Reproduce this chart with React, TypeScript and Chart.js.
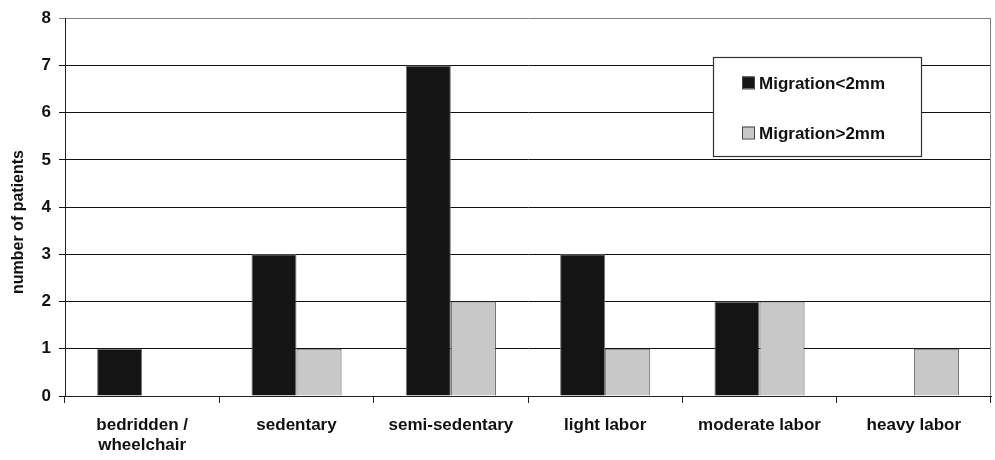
import React, { useEffect, useRef } from "react";
import { Chart, registerables } from "chart.js";

Chart.register(...registerables);

const categories: (string | string[])[] = [
  ["bedridden /", "wheelchair"],
  "sedentary",
  "semi-sedentary",
  "light labor",
  "moderate labor",
  "heavy labor",
];
const seriesLabels = ["Migration<2mm", "Migration>2mm"];
const migrationBelow2mm = [1, 3, 7, 3, 2, 0];
const migrationAbove2mm = [0, 1, 2, 1, 2, 1];
const yTicks = [0, 1, 2, 3, 4, 5, 6, 7, 8];
const yTitle = "number of patients";

const FONT = "'Liberation Sans', Arial, Helvetica, sans-serif";
const BLACK = "#141414";
const GRAY = "#c8c8c8";

const frameAndLegend = {
  id: "frameAndLegend",
  afterDraw(chart: any) {
    const ctx = chart.ctx;
    const a = chart.chartArea;
    ctx.save();
    // right border of plot area
    ctx.strokeStyle = "#808080";
    ctx.lineWidth = 1;
    ctx.beginPath();
    ctx.moveTo(Math.round(a.right) - 0.5, a.top);
    ctx.lineTo(Math.round(a.right) - 0.5, a.bottom);
    ctx.stroke();

    // y axis title
    ctx.save();
    ctx.translate(19, 222);
    ctx.rotate(-Math.PI / 2);
    ctx.font = `bold 16px ${FONT}`;
    ctx.fillStyle = "#111";
    ctx.textAlign = "center";
    ctx.textBaseline = "middle";
    ctx.fillText(yTitle, 0, 0);
    ctx.restore();

    // legend box
    const bx = 713.5, by = 57.5, bw = 208, bh = 99;
    ctx.fillStyle = "#ffffff";
    ctx.fillRect(bx, by, bw, bh);
    ctx.strokeStyle = "#333333";
    ctx.lineWidth = 1.2;
    ctx.strokeRect(bx, by, bw, bh);

    const ds = chart.data.datasets;
    const rows = [83, 133];
    ctx.font = `bold 17px ${FONT}`;
    ctx.textBaseline = "middle";
    ctx.textAlign = "left";
    ds.forEach((d: any, i: number) => {
      const y = rows[i];
      ctx.fillStyle = d.backgroundColor;
      ctx.fillRect(742, y - 6.5, 12, 12);
      ctx.strokeStyle = "#444";
      ctx.lineWidth = 1;
      ctx.strokeRect(742.5, y - 6, 12, 12);
      ctx.fillStyle = "#111";
      ctx.fillText(d.label, 759, y + 1);
    });
    ctx.restore();
  },
};

export default function App() {
  const ref = useRef<HTMLCanvasElement | null>(null);

  useEffect(() => {
    document.body.style.margin = "0";
    const canvas = ref.current!;
    const chart = new Chart(canvas, {
      type: "bar",
      data: {
        labels: categories,
        datasets: [
          {
            label: seriesLabels[0],
            data: migrationBelow2mm,
            backgroundColor: BLACK,
            borderColor: "#777",
            borderWidth: 1,
          },
          {
            label: seriesLabels[1],
            data: migrationAbove2mm,
            backgroundColor: GRAY,
            borderColor: "#555",
            borderWidth: 1,
          },
        ],
      },
      options: {
        animation: false,
        responsive: false,
        maintainAspectRatio: false,
        layout: { padding: { left: 0, right: 4, top: 15, bottom: 0 } },
        datasets: {
          bar: { barPercentage: 1, categoryPercentage: 0.584 },
        },
        plugins: {
          legend: { display: false },
          tooltip: { enabled: false },
        },
        scales: {
          x: {
            offset: true,
            grid: {
              offset: true,
              drawOnChartArea: false,
              drawTicks: true,
              tickLength: 7,
              color: "#222",
            },
            border: { color: "#222", width: 1 },
            ticks: {
              color: "#111",
              font: { family: FONT, size: 17, weight: "bold" },
              padding: 12,
              maxRotation: 0,
              autoSkip: false,
            },
            afterFit(scale: any) {
              scale.height = 64;
            },
          },
          y: {
            min: 0,
            max: 8,
            afterBuildTicks(scale: any) {
              scale.ticks = yTicks.map((v) => ({ value: v }));
            },
            grid: {
              color: (c: any) => (c.tick && c.tick.value === 8 ? "#808080" : "#111"),
              lineWidth: 1,
              tickLength: 6,
            },
            border: { color: "#222", width: 1 },
            ticks: {
              color: "#111",
              font: { family: FONT, size: 17, weight: "bold" },
              padding: 8,
            },
            title: { display: false },
            afterFit(scale: any) {
              scale.width = 65;
            },
          },
        },
      },
      plugins: [frameAndLegend],
    });
    return () => chart.destroy();
  }, []);

  return (
    <div style={{ position: "absolute", left: 0, top: 0, width: 995, height: 460, background: "#fff" }}>
      <canvas ref={ref} width={995} height={460} style={{ width: 995, height: 460, display: "block" }} />
    </div>
  );
}
